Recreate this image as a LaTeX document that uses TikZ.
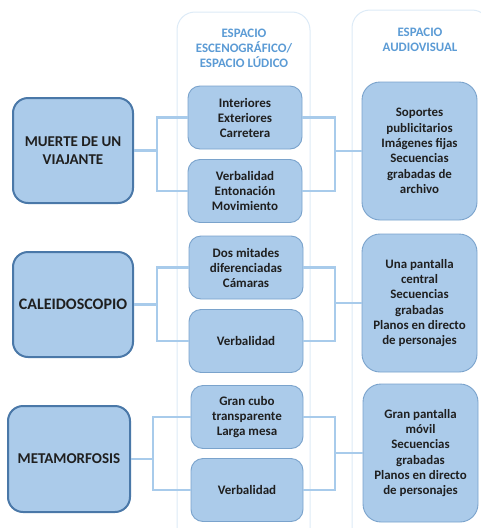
\documentclass[tikz,border=0pt]{standalone}
\usepackage{fontspec}
\setmainfont{Carlito}
\begin{document}
\begin{tikzpicture}[x=1pt,y=-1pt,
  colbg/.style={draw=colline,line width=1pt,fill=white,rounded corners=18pt},
  bigbox/.style={draw=bigline,line width=2pt,fill=boxfill,rounded corners=15pt,minimum width=120pt,minimum height=105pt,align=center,font=\bfseries\fontsize{15}{18}\selectfont,text=txt,inner sep=1pt},
  midbox/.style={draw=midline,line width=0.9pt,fill=boxfill,rounded corners=12pt,minimum width=114pt,minimum height=63pt,align=center,font=\bfseries\fontsize{13}{15}\selectfont,text=txt,inner sep=1pt},
  rbox/.style={draw=midline,line width=0.9pt,fill=boxfill,rounded corners=18pt,minimum width=115pt,minimum height=138pt,align=center,font=\bfseries\fontsize{12.9}{15.3}\selectfont,text=txt,inner sep=1pt},
  head/.style={align=center,font=\bfseries\fontsize{12.9}{15}\selectfont,text=headc},
  conn/.style={draw=connc,line width=2.4pt}
]
\definecolor{colline}{HTML}{DDEBF7}
\definecolor{bigline}{HTML}{4A78A8}
\definecolor{midline}{HTML}{7AA3CC}
\definecolor{boxfill}{HTML}{ABCBEA}
\definecolor{txt}{HTML}{1F1F1F}
\definecolor{headc}{HTML}{5B9BD5}
\definecolor{connc}{HTML}{A8CBEB}
\useasboundingbox (0,0) rectangle (481,528);
\begin{scope}
\clip (0,0) rectangle (481,528);
\draw[colbg] (177,12) rectangle (310,560);
\draw[colbg] (352,10) rectangle (490,560);
\end{scope}
\node[head] (h1) at (244,48) {ESPACIO\\ESCENOGRÁFICO/\\ESPACIO LÚDICO};
\node[head] (h2) at (420,40) {ESPACIO\\AUDIOVISUAL};

\coordinate (lb1) at (157,0);
\coordinate (lb2) at (157,0);
\coordinate (lb3) at (153,0);
\coordinate (rb) at (335,0);

% row 1
\node[bigbox] (b1) at (73,150.5) {MUERTE DE UN\\VIAJANTE};
\node[midbox] (m11) at (245,117.5) {Interiores\\Exteriores\\Carretera};
\node[midbox] (m12) at (245,191) {Verbalidad\\Entonación\\Movimiento};
\node[rbox] (r1) at (419.5,151) {Soportes\\publicitarios\\Imágenes fijas\\Secuencias\\grabadas de\\archivo};
% row 2
\node[bigbox,font=\bfseries\fontsize{16}{18}\selectfont] (b2) at (73,304.5) {CALEIDOSCOPIO};
\node[midbox] (m21) at (246,267.5) {Dos mitades\\diferenciadas\\Cámaras};
\node[midbox] (m22) at (246,341) {Verbalidad};
\node[rbox] (r2) at (419.5,303) {Una pantalla\\central\\Secuencias\\grabadas\\Planos en directo\\de personajes};
% row 3
\node[bigbox,minimum width=122pt,minimum height=106pt] (b3) at (69,459) {METAMORFOSIS};
\node[midbox,minimum width=112pt] (m31) at (247,417) {Gran cubo\\transparente\\Larga mesa};
\node[midbox,minimum width=112pt] (m32) at (247,490) {Verbalidad};
\node[rbox] (r3) at (420.5,453) {Gran pantalla\\móvil\\Secuencias\\grabadas\\Planos en directo\\de personajes};

% connectors
\foreach \b/\ma/\mb/\r/\l in {b1/m11/m12/r1/lb1, b2/m21/m22/r2/lb2, b3/m31/m32/r3/lb3}{
  \draw[conn] (\b.east) -- (\b.east -| \l);
  \draw[conn] (\ma.west) -- (\ma.west -| \l) |- (\mb.west);
  \draw[conn] (\ma.east) -- (\ma.east -| rb) |- (\mb.east);
  \draw[conn] (\r.west) -- (\r.west -| rb);
}
\end{tikzpicture}
\end{document}
